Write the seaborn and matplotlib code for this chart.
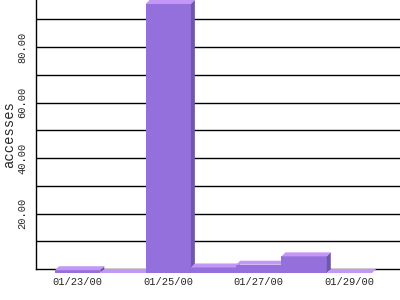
import matplotlib
matplotlib.use("Agg")
import matplotlib.pyplot as plt
import seaborn as sns
import pandas as pd
from matplotlib.patches import Polygon
from matplotlib.transforms import ScaledTranslation, IdentityTransform

dates = ["01/23/00", "01/24/00", "01/25/00", "01/26/00", "01/27/00", "01/28/00", "01/29/00"]
accesses = [1, 0, 97, 2, 3, 6, 0]
tick_labels = ["01/23/00", "", "01/25/00", "", "01/27/00", "", "01/29/00"]
ytick_values = [10, 20, 30, 40, 50, 60, 70, 80, 90]
ytick_labels = ["", "20.00", "", "40.00", "", "60.00", "", "80.00", ""]

FRONT = "#9370DB"
TOP = "#C497F7"
SIDE = "#6F58AC"

sns.set_style("white")
plt.rcParams["font.family"] = ["Liberation Mono", "DejaVu Sans Mono"]

fig = plt.figure(figsize=(4, 3), dpi=100)
ax = fig.add_axes([36 / 400, 31 / 300, 364 / 400, 269 / 300])

df = pd.DataFrame({"date": dates, "accesses": accesses})
sns.barplot(data=df, x="date", y="accesses", color=FRONT, saturation=1,
            width=1.0, ax=ax, edgecolor="none", linewidth=0)

ax.set_xlim(-0.919, 7.116)
ax.set_ylim(0, 97)
ax.set_yticks(ytick_values)
ax.set_yticklabels(ytick_labels, rotation=90, va="center", fontsize=7.5)
ax.set_xticks(range(len(dates)))
ax.set_xticklabels(tick_labels, fontsize=7.5)
ax.tick_params(axis="both", length=0)
ax.tick_params(axis="y", pad=6)
ax.tick_params(axis="x", pad=6)
ax.set_xlabel("")
ax.set_ylabel("accesses", fontsize=10, labelpad=1)
ax.yaxis.grid(True, color="black", linewidth=1.0, zorder=0.5)
ax.xaxis.grid(False)
ax.set_axisbelow(True)
for s in ["top", "right"]:
    ax.spines[s].set_visible(False)
for s in ["left", "bottom"]:
    ax.spines[s].set_color("black")
    ax.spines[s].set_linewidth(1.0)
    ax.spines[s].set_zorder(0.6)

d = 4  # depth in pixels
offset = ScaledTranslation(0, -d / 100, fig.dpi_scale_trans)
fig.canvas.draw()
for i, p in enumerate(list(ax.patches)):
    p.set_transform(ax.transData + offset)
    p.set_zorder(3 + 3 * i)
    p.set_clip_on(False)
    x0, y0 = p.get_x(), p.get_y()
    x1, y1 = x0 + p.get_width(), y0 + p.get_height()
    (px0, py1), (px1, _) = ax.transData.transform([(x0, y1), (x1, y1)])
    _, py0 = ax.transData.transform((x0, y0))
    fy1 = py1 - d
    fy0 = py0 - d
    top = Polygon([(px0, fy1), (px1, fy1), (px1 + d, fy1 + d), (px0 + d, fy1 + d)],
                  closed=True, facecolor=TOP, edgecolor="none",
                  transform=IdentityTransform(), zorder=4 + 3 * i, clip_on=False)
    side = Polygon([(px1, fy0), (px1, fy1), (px1 + d, fy1 + d), (px1 + d, fy0 + d)],
                   closed=True, facecolor=SIDE, edgecolor="none",
                   transform=IdentityTransform(), zorder=5 + 3 * i, clip_on=False)
    ax.add_artist(top)
    ax.add_artist(side)

fig.savefig("out.png", dpi=100, facecolor="white")
